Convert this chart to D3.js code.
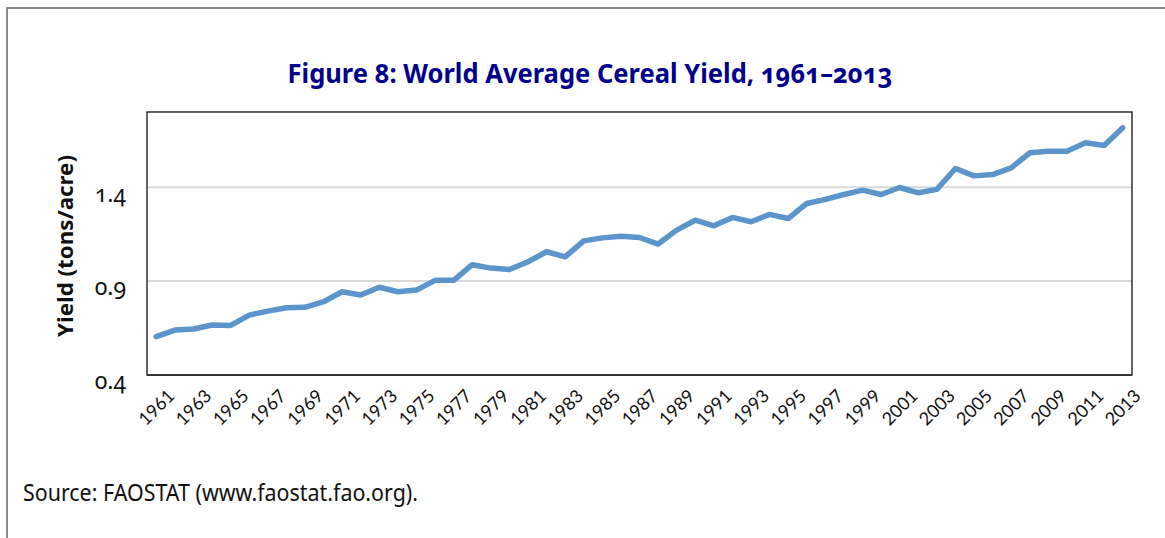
<!DOCTYPE html>
<html>
<head>
<meta charset="utf-8">
<script src="https://cdn.jsdelivr.net/npm/d3@7"></script>
<style>
  html, body { margin: 0; padding: 0; background: #fff; }
  svg { display: block; }
</style>
</head>
<body>
<svg id="chart" width="1165" height="538"></svg>
<script>
const years = [1961,1962,1963,1964,1965,1966,1967,1968,1969,1970,1971,1972,1973,1974,1975,1976,1977,1978,1979,1980,
  1981,1982,1983,1984,1985,1986,1987,1988,1989,1990,1991,1992,1993,1994,1995,1996,1997,1998,1999,2000,
  2001,2002,2003,2004,2005,2006,2007,2008,2009,2010,2011,2012,2013];
const yieldValues = [0.604,0.639,0.645,0.666,0.664,0.719,0.740,0.758,0.760,0.790,0.843,0.826,0.867,0.843,0.852,0.904,0.904,0.987,0.969,0.962,
  1.003,1.056,1.029,1.114,1.130,1.139,1.132,1.097,1.171,1.224,1.194,1.239,1.216,1.255,1.233,1.313,1.335,1.361,1.384,1.361,
  1.398,1.370,1.388,1.499,1.460,1.467,1.503,1.583,1.591,1.591,1.636,1.622,1.716];
const xTickLabels = ["1961","1963","1965","1967","1969","1971","1973","1975","1977","1979","1981","1983","1985","1987",
  "1989","1991","1993","1995","1997","1999","2001","2003","2005","2007","2009","2011","2013"];
const yTickValues = [0.4, 0.9, 1.4];
const titleText = "Figure 8: World Average Cereal Yield, 1961–2013";
const yAxisTitle = "Yield (tons/acre)";
const sourceText = "Source: FAOSTAT (www.faostat.fao.org).";

const svg = d3.select("#chart");
const plot = {left: 147, right: 1132, top: 112, bottom: 375};

// outer frame
svg.append("path")
  .attr("d", "M7,538 L7,8 L1165,8")
  .attr("fill", "none").attr("stroke", "#8a8a8a").attr("stroke-width", 2);

const x = d3.scaleBand().domain(years.map(String)).range([plot.left, plot.right]).padding(0);
const y = d3.scaleLinear().domain([0.4, 1.8]).range([plot.bottom, plot.top]);
const cx = d => x(String(d)) + x.bandwidth() / 2;

// gridlines
svg.append("g").selectAll("line")
  .data(yTickValues.filter(v => v > 0.4))
  .join("line")
  .attr("x1", plot.left).attr("x2", plot.right)
  .attr("y1", d => y(d)).attr("y2", d => y(d))
  .attr("stroke", "#d9d9d9").attr("stroke-width", 2);

// plot border
svg.append("rect")
  .attr("x", plot.left).attr("y", plot.top)
  .attr("width", plot.right - plot.left).attr("height", plot.bottom - plot.top)
  .attr("fill", "none").attr("stroke", "#111").attr("stroke-width", 1.3);
svg.append("line")
  .attr("x1", plot.left).attr("x2", plot.right)
  .attr("y1", plot.bottom).attr("y2", plot.bottom)
  .attr("stroke", "#333").attr("stroke-width", 2);

// y axis
const yAxis = d3.axisLeft(y).tickValues(yTickValues).tickSize(0).tickPadding(0)
  .tickFormat(d3.format(".1f"));
const gy = svg.append("g").attr("transform", `translate(126,0)`).call(yAxis);
gy.select(".domain").remove();
gy.selectAll("text")
  .attr("dy", "0.95em")
  .attr("y", -8)
  .style("font-family", "'Noto Sans', sans-serif")
  .style("font-feature-settings", "'onum' 1")
  .style("font-size", "23px")
  .attr("fill", "#111");

// x axis
const xAxis = d3.axisBottom(x).tickValues(xTickLabels).tickSize(0).tickPadding(0);
const gx = svg.append("g").attr("transform", `translate(${x.bandwidth()/2},${plot.bottom})`).call(xAxis);
gx.select(".domain").remove();
gx.selectAll("text")
  .attr("y", 0).attr("dy", 0)
  .attr("text-anchor", "end")
  .attr("transform", "translate(10,22) rotate(-45)")
  .style("font-family", "Lato, 'Open Sans', sans-serif")
  .style("font-size", "18px")
  .attr("fill", "#111");

// line
const line = d3.line().x((d, i) => cx(years[i])).y(d => y(d));
svg.append("path")
  .datum(yieldValues)
  .attr("d", line)
  .attr("fill", "none")
  .attr("stroke", "#5b95cb")
  .attr("stroke-width", 5.5)
  .attr("stroke-linejoin", "round")
  .attr("stroke-linecap", "round");

// title
svg.append("text")
  .attr("x", 590).attr("y", 83)
  .attr("text-anchor", "middle")
  .attr("textLength", 605).attr("lengthAdjust", "spacingAndGlyphs")
  .style("font-family", "'Noto Sans', sans-serif")
  .style("font-weight", "bold")
  .style("font-size", "26px")
  .style("font-feature-settings", "'onum' 1")
  .attr("fill", "#00008b")
  .text(titleText);

// y axis title
svg.append("text")
  .attr("transform", "translate(73,246) rotate(-90)")
  .attr("text-anchor", "middle")
  .attr("textLength", 182).attr("lengthAdjust", "spacingAndGlyphs")
  .style("font-family", "'Noto Sans', sans-serif")
  .style("font-weight", "bold")
  .style("font-size", "22px")
  .attr("fill", "#111")
  .text(yAxisTitle);

// source
svg.append("text")
  .attr("x", 23).attr("y", 501)
  .attr("textLength", 395).attr("lengthAdjust", "spacingAndGlyphs")
  .style("font-family", "'Noto Sans', sans-serif")
  .style("font-size", "23px")
  .attr("fill", "#111")
  .text(sourceText);
</script>
</body>
</html>
